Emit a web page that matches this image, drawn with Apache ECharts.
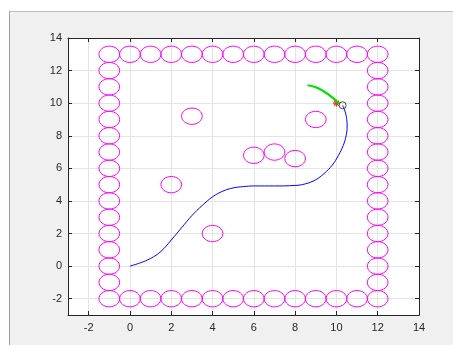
<!DOCTYPE html>
<html>
<head>
<meta charset="utf-8">
<script src="https://cdn.jsdelivr.net/npm/echarts@6/dist/echarts.min.js"></script>
<style>
html,body{margin:0;padding:0;background:#fff;}
#fig{position:absolute;left:9px;top:11px;width:444px;height:334px;background:#f0f0f0;border-left:1px solid #a0a0a0;border-top:1px solid #bdbdbd;box-sizing:border-box;}
#chart{position:absolute;left:0;top:0;width:453px;height:345px;}
</style>
</head>
<body>
<div id="fig"></div>
<div id="chart"></div>
<script>
// ---- data ----
const xTicks = [-2, 0, 2, 4, 6, 8, 10, 12, 14];
const yTicks = [-2, 0, 2, 4, 6, 8, 10, 12, 14];
const xRange = [-3, 14];
const yRange = [-3, 14];
const obstacleRadius = 0.5;

const borderTop = [[-1,13],[0,13],[1,13],[2,13],[3,13],[4,13],[5,13],[6,13],[7,13],[8,13],[9,13],[10,13],[11,13],[12,13]];
const borderBottom = [[-1,-2],[0,-2],[1,-2],[2,-2],[3,-2],[4,-2],[5,-2],[6,-2],[7,-2],[8,-2],[9,-2],[10,-2],[11,-2],[12,-2]];
const borderLeft = [[-1,-1],[-1,0],[-1,1],[-1,2],[-1,3],[-1,4],[-1,5],[-1,6],[-1,7],[-1,8],[-1,9],[-1,10],[-1,11],[-1,12]];
const borderRight = [[12,-1],[12,0],[12,1],[12,2],[12,3],[12,4],[12,5],[12,6],[12,7],[12,8],[12,9],[12,10],[12,11],[12,12]];
const obstacles = [[3,9.2],[2,5],[4,2],[6,6.8],[7,7],[8,6.6],[9,9]];

const bluePath = [[0,0],[0.5,0.2],[1,0.47],[1.5,0.9],[2,1.6],[2.5,2.35],[3,3.1],[3.5,3.72],[4,4.25],[4.5,4.6],[5,4.8],[5.5,4.88],[6,4.92],[7,4.92],[8,4.95],[8.5,5.05],[9,5.3],[9.4,5.68],[9.8,6.2],[10.1,6.8],[10.33,7.4],[10.47,8.0],[10.52,8.6],[10.5,9.0],[10.43,9.45],[10.3,9.87]];
const greenPath = [[8.6,11.1],[9.0,10.98],[9.36,10.75],[9.65,10.5],[9.85,10.3],[10.15,9.98]];
const goalStar = [[10,10]];
const robotPos = [[10.3,9.87]];

// ---- chart ----
const allCircles = borderTop.concat(borderBottom, borderLeft, borderRight, obstacles);
const axisColor = '#262626';
const font = {color: axisColor, fontSize: 11, fontFamily: 'Liberation Sans, Arial, sans-serif'};

function ellipseItem(params, api) {
  const c = api.coord([api.value(0), api.value(1)]);
  const s = api.size([1, 1]);
  return {
    type: 'ellipse',
    shape: {cx: c[0], cy: c[1], rx: s[0] * obstacleRadius, ry: s[1] * obstacleRadius},
    style: {fill: 'none', stroke: '#ff00ff', lineWidth: 1}
  };
}

const chart = echarts.init(document.getElementById('chart'), null, {renderer: 'canvas'});
chart.setOption({
  animation: false,
  backgroundColor: 'transparent',
  grid: {left: 68, right: 34, top: 38, bottom: 30, show: true, backgroundColor: '#ffffff', borderWidth: 0},
  xAxis: [{
    type: 'value', min: xRange[0], max: xRange[1], position: 'bottom',
    axisLine: {show: true, onZero: false, lineStyle: {color: axisColor, width: 1}},
    axisTick: {show: true, inside: true, length: 4, customValues: xTicks, lineStyle: {color: axisColor}},
    axisLabel: Object.assign({show: true, margin: 7, customValues: xTicks}, font),
    splitLine: {show: true, lineStyle: {color: '#e4e4e4', width: 1}}
  }, {
    type: 'value', min: xRange[0], max: xRange[1], position: 'top',
    axisLine: {show: true, onZero: false, lineStyle: {color: axisColor, width: 1}},
    axisTick: {show: true, inside: true, length: 4, customValues: xTicks, lineStyle: {color: axisColor}},
    axisLabel: {show: false},
    splitLine: {show: false}
  }],
  yAxis: [{
    type: 'value', min: yRange[0], max: yRange[1], position: 'left',
    axisLine: {show: true, onZero: false, lineStyle: {color: axisColor, width: 1}},
    axisTick: {show: true, inside: true, length: 4, customValues: yTicks, lineStyle: {color: axisColor}},
    axisLabel: Object.assign({show: true, margin: 6, customValues: yTicks}, font),
    splitLine: {show: true, lineStyle: {color: '#e4e4e4', width: 1}}
  }, {
    type: 'value', min: yRange[0], max: yRange[1], position: 'right',
    axisLine: {show: true, onZero: false, lineStyle: {color: axisColor, width: 1}},
    axisTick: {show: true, inside: true, length: 4, customValues: yTicks, lineStyle: {color: axisColor}},
    axisLabel: {show: false},
    splitLine: {show: false}
  }],
  series: [{
    type: 'custom', xAxisIndex: 0, yAxisIndex: 0,
    renderItem: ellipseItem,
    data: allCircles,
    encode: {x: 0, y: 1},
    silent: true
  }, {
    type: 'line', xAxisIndex: 0, yAxisIndex: 0,
    data: bluePath, smooth: 0.4, showSymbol: false,
    lineStyle: {color: '#0000ff', width: 1}
  }, {
    type: 'line', xAxisIndex: 0, yAxisIndex: 0,
    data: greenPath, smooth: 0.4, showSymbol: false,
    lineStyle: {color: '#00e000', width: 2.2}
  }, {
    type: 'scatter', xAxisIndex: 0, yAxisIndex: 0,
    data: goalStar,
    symbol: 'path://M5,0L5,10M0,5L10,5M1.5,1.5L8.5,8.5M8.5,1.5L1.5,8.5',
    symbolSize: 7,
    itemStyle: {color: 'none', borderColor: '#ff0000', borderWidth: 1.2}
  }, {
    type: 'scatter', xAxisIndex: 0, yAxisIndex: 0,
    data: robotPos,
    symbol: 'circle', symbolSize: 7,
    itemStyle: {color: 'none', borderColor: '#222222', borderWidth: 1}
  }]
});
</script>
</body>
</html>
